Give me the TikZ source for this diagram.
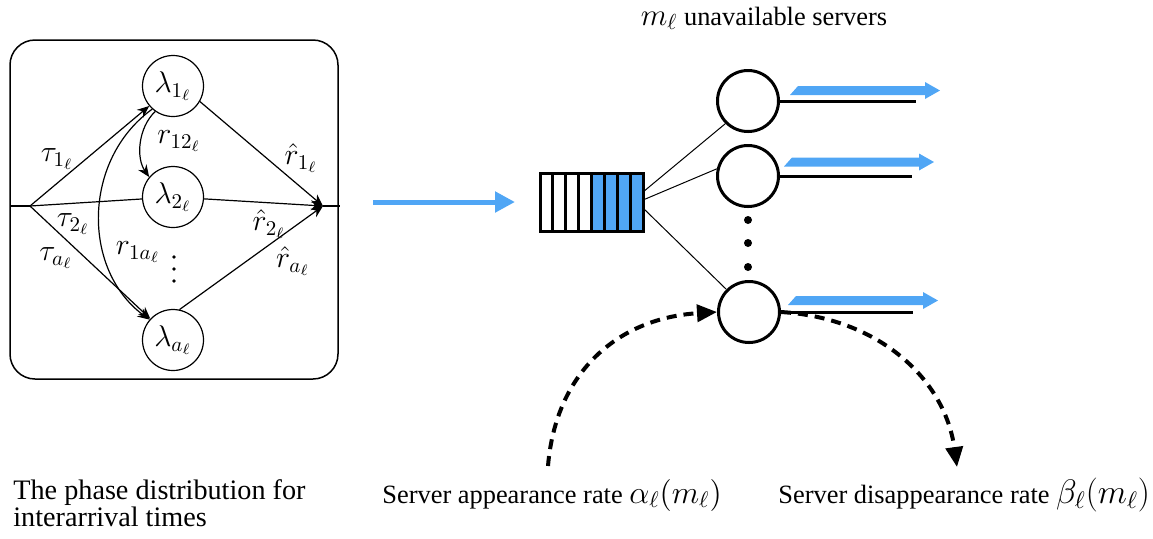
\RequirePackage{fix-cm}
\documentclass[tikz,border=0pt]{standalone}
\usepackage{fontspec}
\setmainfont{Liberation Serif}
\usetikzlibrary{arrows.meta}
\definecolor{qblue}{RGB}{80,166,245}
\begin{document}
\begin{tikzpicture}[x=0.5pt,y=-0.5pt,
  phase/.style={circle,draw,line width=0.6pt,minimum size=30.5pt,inner sep=0pt,font=\fontsize{15}{18}\selectfont},
  srv/.style={circle,draw,line width=1.5pt,minimum size=30.5pt,inner sep=0pt},
  lbl/.style={font=\fontsize{15}{18}\selectfont,inner sep=0pt},
  pline/.style={line width=0.6pt},
  parr/.style={line width=0.6pt,-{Stealth[length=6pt,width=5pt]}},
  dasharr/.style={line width=2pt,dash pattern=on 5pt off 3.5pt,-{Triangle[length=10pt,width=8.5pt]}},
  outline/.style={line width=1.5pt},
  link/.style={line width=0.5pt},
  txt/.style={font=\rmfamily\fontsize{13.2}{15}\selectfont,inner sep=0pt}]
\useasboundingbox (0,0) rectangle (1153,538);

% ---------- phase-type box ----------
\draw[line width=0.75pt,rounded corners=12.5pt] (10,40) rectangle (338,379);
\node[phase] (l1) at (173,86)  {$\lambda_{1_\ell}$};
\node[phase] (l2) at (173,197) {$\lambda_{2_\ell}$};
\node[phase] (la) at (173,340) {$\lambda_{a_\ell}$};
\coordinate (J) at (30,206);
\coordinate (M) at (323,206);
\coordinate (Lin) at (10,206);
\coordinate (Lout) at (340,206);
\draw[line width=0.75pt] (Lin) -- (J);
\draw[line width=0.75pt] (M) -- (Lout);
\draw[parr] (J) -- (l1);
\draw[pline] (J) -- (l2);
\draw[parr] (J) -- (la);
\draw[parr] (l1.-30) -- (M);
\draw[parr] (l2) -- (M);
\draw[parr] (la.78) -- (M);
\draw[parr] (l1.235) .. controls (138,128) and (136,158) .. (l2.140);
\draw[parr] (l1.228) .. controls (82,160) and (82,270) .. (la.139);
\fill (174,257) circle (0.9pt);
\fill (174,269) circle (0.9pt);
\fill (174,281) circle (0.9pt);
\node[lbl] (t1) at (57,159) {$\tau_{1_\ell}$};
\node[lbl] (t2) at (73,224) {$\tau_{2_\ell}$};
\node[lbl] (ta) at (56,258) {$\tau_{a_\ell}$};
\node[lbl] (r12) at (179,141) {$r_{12_\ell}$};
\node[lbl] (r1a) at (138,252) {$r_{1a_\ell}$};
\node[lbl] (h1) at (301,158) {$\hat r_{1_\ell}$};
\node[lbl] (h2) at (269,224) {$\hat r_{2_\ell}$};
\node[lbl] (ha) at (293,261) {$\hat r_{a_\ell}$};
\node[font=\rmfamily\fontsize{14.1}{13.5}\selectfont,align=left,anchor=north west,inner sep=0pt] (cap) at (13,479)
  {The phase distribution for\\interarrival times};

% ---------- input arrow and queue ----------
\coordinate (in0) at (373,202);
\coordinate (in1) at (515,202);
\node[minimum width=51.5pt,minimum height=29pt,inner sep=0pt] (queue) at (591.5,202) {};
\draw[qblue,line width=2.5pt,-{Triangle[length=10pt,width=10pt]}] (in0) -- (in1);
\fill[qblue] (591.5,173) rectangle (643,231);
\foreach \i in {1,...,7}{
  \draw[line width=1.5pt] ({540+\i*12.875},173) -- ({540+\i*12.875},231);
}
\draw[line width=1.5pt] (540,173) rectangle (643,231);

% ---------- servers ----------
\node[srv] (S1) at (748,101) {};
\node[srv] (S2) at (748,176) {};
\node[srv] (S3) at (749,312) {};
\coordinate (q1) at (643,192);
\coordinate (q2) at (643,200);
\coordinate (q3) at (643,208);
\draw[link] (q1) -- (S1.225);
\draw[link] (q2) -- (S2.167);
\draw[link] (q3) -- (S3.135);
\fill (748,220) circle (2pt);
\fill (748,243) circle (2pt);
\fill (748,267) circle (2pt);
\coordinate (o1) at (916,101);
\coordinate (o2) at (912,176);
\coordinate (o3) at (913,312);
\draw[outline] (S1.east) -- (o1);
\draw[outline] (S2.east) -- (o2);
\draw[outline] (S3.east) -- (o3);
\foreach \yy/\dx in {90.5/0,162/-6,300.5/-2}{
  \fill[qblue] ({790+\dx},{\yy+4.5}) -- ({798+\dx},{\yy-4.5}) -- ({925+\dx},{\yy-4.5}) -- ({925+\dx},{\yy-8.5})
     -- ({940+\dx},\yy) -- ({925+\dx},{\yy+8.5}) -- ({925+\dx},{\yy+4.5}) -- cycle;
}
\node[txt,anchor=base] (title) at (764,25) {{\fontsize{15.5}{18}\selectfont$m_\ell$} unavailable servers};

% ---------- appearance / disappearance ----------
\coordinate (a0) at (548,466);
\coordinate (d1) at (957,467);
\draw[dasharr] (a0) .. controls (556,370) and (620,318) .. (S3.west);
\draw[dasharr] (S3.east) .. controls (880,318) and (945,380) .. (d1);
\node[txt,anchor=base west] (app) at (382,503) {Server appearance rate {\fontsize{16}{18}\selectfont$\alpha_\ell(m_\ell)$}};
\node[txt,anchor=base west] (dis) at (778,503) {Server disappearance rate {\fontsize{17}{18}\selectfont$\beta_\ell(m_\ell)$}};
\end{tikzpicture}
\end{document}
